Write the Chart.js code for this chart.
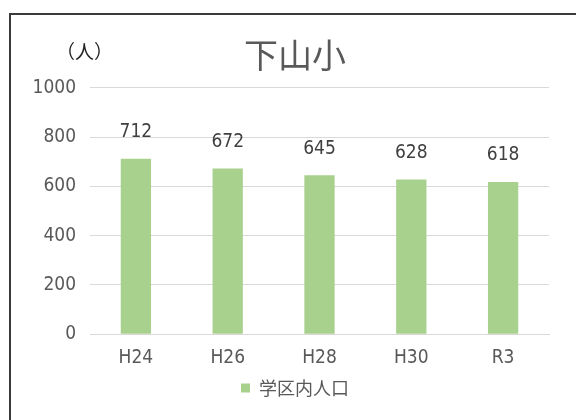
<!DOCTYPE html>
<html lang="ja">
<head>
  <meta charset="UTF-8">
  <script src="https://cdn.jsdelivr.net/npm/chart.js@4.4.0/dist/chart.umd.min.js"></script>
  <title>下山小</title>
  <style>
    body { margin: 0; background: #fff; }
    #wrap { position: relative; width: 576px; height: 420px; overflow: hidden; }
    #frame { position: absolute; left: 9px; top: 13px; width: 620px; height: 460px; border: 2px solid #3a3a3a; }
    canvas { position: absolute; left: 0; top: 0; }
  </style>
</head>
<body>
  <div id="wrap">
    <div id="frame"></div>
    <canvas id="chart" width="576" height="420"></canvas>
  </div>

  <script>
    // data
    const years = ['H24', 'H26', 'H28', 'H30', 'R3'];
    const population = [712, 672, 645, 628, 618];
    const seriesName = '学区内人口';
    const chartTitle = '下山小';
    const unitLabel = '（人）';

    const narrow = "'Liberation Sans Narrow', 'DejaVu Sans Condensed', 'Noto Sans CJK JP', sans-serif";
    const jp = "'Noto Sans CJK JP', sans-serif";

    // values over the bars + the unit text
    const labelPlugin = {
      id: 'barLabels',
      afterDatasetsDraw(chart) {
        const ctx = chart.ctx;
        const meta = chart.getDatasetMeta(0);
        ctx.save();
        ctx.fillStyle = '#404040';
        ctx.font = "19px " + narrow;
        ctx.textAlign = 'center';
        ctx.textBaseline = 'bottom';
        meta.data.forEach((bar, i) => {
          ctx.fillText(population[i], bar.x, bar.y - 17);
        });
        ctx.font = "19px " + jp;
        ctx.fillStyle = '#222';
        ctx.textAlign = 'left';
        ctx.textBaseline = 'middle';
        ctx.fillText(unitLabel, 56, 52);
        ctx.restore();
      }
    };

    const ctx = document.getElementById('chart').getContext('2d');
    new Chart(ctx, {
      type: 'bar',
      data: {
        labels: years,
        datasets: [{
          label: seriesName,
          data: population,
          backgroundColor: '#A9D18E',
          barPercentage: 0.33,
          categoryPercentage: 1
        }]
      },
      options: {
        responsive: false,
        animation: false,
        layout: { padding: { left: 41, right: 27, top: 0, bottom: 13 } },
        plugins: {
          title: {
            display: true,
            text: chartTitle,
            color: '#595959',
            font: { family: jp, size: 34, weight: 'normal' },
            padding: { top: 35, bottom: 12 }
          },
          legend: {
            position: 'bottom',
            labels: {
              color: '#595959',
              font: { family: jp, size: 18 },
              boxWidth: 9,
              boxHeight: 9,
              padding: 6
            }
          },
          tooltip: { enabled: false }
        },
        scales: {
          x: {
            grid: { display: false },
            border: { color: '#d9d9d9' },
            ticks: { color: '#595959', font: { family: narrow, size: 19 }, padding: 4 }
          },
          y: {
            min: 0,
            max: 1000,
            ticks: {
              stepSize: 200,
              color: '#595959',
              font: { family: narrow, size: 19 },
              padding: 14,
              callback: v => String(v)
            },
            grid: { color: '#d9d9d9', drawTicks: false },
            border: { display: false },
            afterFit(scale) {
              scale.width = 49;
              // narrow axis box: don't clip "1000" at its left edge
              scale._computeLabelArea = () => undefined;
            }
          }
        }
      },
      plugins: [labelPlugin]
    });
  </script>
</body>
</html>
